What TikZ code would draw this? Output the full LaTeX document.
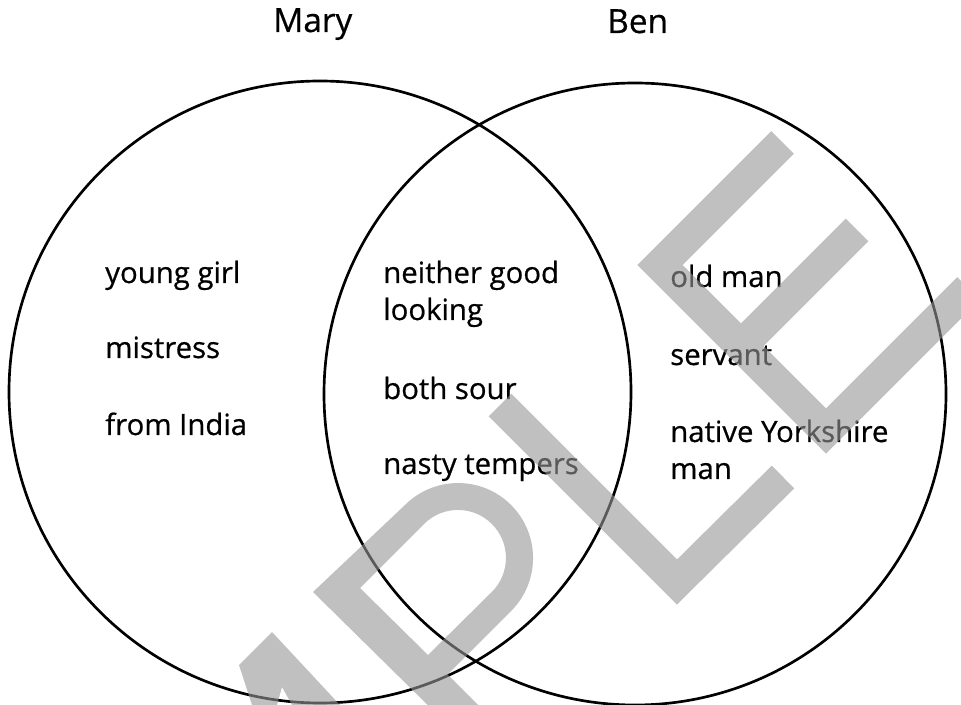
\documentclass[tikz,border=0pt]{standalone}
\usepackage{fontspec}
\setmainfont{Open Sans}[FakeBold=0.6]
\usetikzlibrary{positioning}
\definecolor{stampgray}{RGB}{150,150,150}

\begin{document}
\begin{tikzpicture}[x=0.75pt,y=-0.75pt,
  set/.style={circle,draw,line width=2pt,minimum size=466.5pt,inner sep=0pt},
  heading/.style={anchor=base west,inner sep=0pt,font=\fontsize{25}{30}\selectfont},
  item/.style={anchor=base west,inner sep=0pt,align=left,font=\fontsize{22}{27.75}\selectfont},
  stamp/.style={fill=stampgray,fill opacity=0.6},
  stampline/.style={draw=stampgray,draw opacity=0.6,line width=24pt,line join=miter}]
\useasboundingbox (0,0) rectangle (961,705);
% the two sets
  \node[set] (mary) at (320,392) {};
  \node[set] (ben)  at (635,394) {};
  \node[heading] (maryname) at (273,32) {Mary};
  \node[heading] (benname)  at (607,33) {Ben};

% Mary only
  \node[item] (girl)     at (105,283) {young girl};
  \node[item] (mistress) at (105,358) {mistress};
  \node[item] (india)    at (105,435) {from India};
% both
  \node[item] (looks)    at (383,320) {neither good\\looking};
  \node[item] (sour)     at (383,399) {both sour};
  \node[item] (tempers)  at (383,474) {nasty tempers};
% Ben only
  \node[item] (oldman)   at (670,287) {old man};
  \node[item] (servant)  at (670,365) {servant};
  \node[item] (yorks)    at (670,479) {native Yorkshire\\man};

% sample stamp
\begin{scope}
  \clip (0,0) rectangle (961,705);
  \fill[stamp] (239,665) -- (272,632) -- (340,705) -- (292,705) -- (282,687)
    -- (277,705) -- (252,705) -- cycle;
  \fill[stamp,even odd rule] (313,592) -- (405,505) arc[start angle=-135,end angle=45,radius=75]
    -- (447.5,674.5) -- (500,727) -- (450,727) -- cycle
    (360,588) -- (424,524) arc[start angle=-135,end angle=45,radius=48] -- (428,655) -- cycle;
  \draw[stampline] (500,405) -- (677,582) -- (783,477);
  \draw[stampline] (782.5,142.5) -- (660,265) -- (826,431) -- (968.5,288.5)
    (741,346) -- (857,230);
\end{scope}
\end{tikzpicture}
\end{document}
